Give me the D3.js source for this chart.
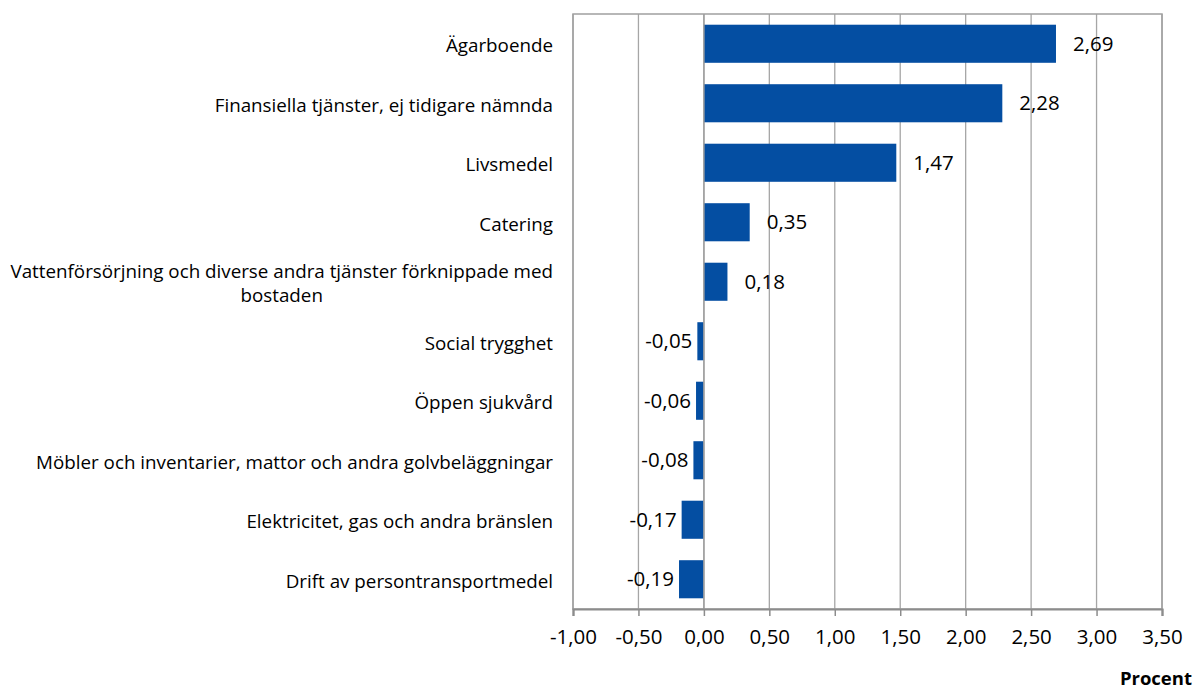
<!DOCTYPE html>
<html>
<head>
<meta charset="utf-8">
<script src="https://cdn.jsdelivr.net/npm/d3@7"></script>
<style>
    body { margin: 0; background: #fff; }
    svg { display: block; font-family: "Open Sans", sans-serif; }
</style>
</head>
<body>
<svg id="chart" width="1195" height="690"></svg>
<script>
const categories = [
    'Ägarboende',
    'Finansiella tjänster, ej tidigare nämnda',
    'Livsmedel',
    'Catering',
    'Vattenförsörjning och diverse andra tjänster förknippade med bostaden',
    'Social trygghet',
    'Öppen sjukvård',
    'Möbler och inventarier, mattor och andra golvbeläggningar',
    'Elektricitet, gas och andra bränslen',
    'Drift av persontransportmedel'
];
const values = [2.69, 2.28, 1.47, 0.35, 0.18, -0.05, -0.06, -0.08, -0.17, -0.19];
const xTicks = [-1, -0.5, 0, 0.5, 1, 1.5, 2, 2.5, 3, 3.5];
const axisTitle = 'Procent';

let width = 1195, height = 690;
let plot = {left: 573, right: 1162, top: 14, bottom: 609};
let fmt = function(v){ return d3.format('.2f')(v).replace('.', ',').replace('−', '-'); };

let svg = d3.select('#chart');

let xScale = d3.scaleLinear().domain([-1, 3.5]).range([plot.left, plot.right]);
let yScale = d3.scaleBand().domain(d3.range(categories.length)).range([plot.top, plot.bottom])
    .paddingInner(0.36).paddingOuter(0.18);

// gridlines
svg.append('g').classed('grid', true)
    .selectAll('line').data(xTicks).enter().append('line')
    .attr('x1', function(d){ return xScale(d) }).attr('x2', function(d){ return xScale(d) })
    .attr('y1', plot.top).attr('y2', plot.bottom)
    .attr('stroke', '#a6a6a6').attr('stroke-width', 1.3);

// frame
svg.append('rect')
    .attr('x', plot.left).attr('y', plot.top)
    .attr('width', plot.right - plot.left).attr('height', plot.bottom - plot.top)
    .attr('fill', 'none').attr('stroke', '#a0a0a0').attr('stroke-width', 1.5);

// bars
svg.append('g').classed('bars', true)
    .selectAll('rect').data(values).enter().append('rect')
    .attr('x', function(d){ return xScale(Math.min(0, d)) })
    .attr('y', function(d, i){ return yScale(i) })
    .attr('width', function(d){ return Math.abs(xScale(d) - xScale(0)) })
    .attr('height', yScale.bandwidth())
    .attr('fill', '#044ea2');

// category axis line at zero
svg.append('line')
    .attr('x1', xScale(0)).attr('x2', xScale(0))
    .attr('y1', plot.top).attr('y2', plot.bottom)
    .attr('stroke', '#a0a0a0').attr('stroke-width', 1.5);

// value labels
svg.append('g').classed('labels', true)
    .selectAll('text').data(values).enter().append('text')
    .attr('x', function(d){ return d >= 0 ? xScale(d) + 17 : xScale(d) - 5 })
    .attr('y', function(d, i){ return yScale(i) + yScale.bandwidth() / 2 })
    .attr('dy', '0.35em')
    .attr('text-anchor', function(d){ return d >= 0 ? 'start' : 'end' })
    .attr('font-size', '20.5px')
    .attr('fill', '#000')
    .text(function(d){ return fmt(d) });

// x axis
let xAxis = d3.axisBottom(xScale).tickValues(xTicks).tickFormat(fmt).tickSize(7).tickPadding(13);
let gx = svg.append('g').classed('axis', true)
    .attr('transform', 'translate(0,' + plot.bottom + ')')
    .call(xAxis);
gx.select('.domain').attr('stroke', '#8c8c8c').attr('stroke-width', 2.2);
gx.selectAll('.tick line').attr('stroke', '#8c8c8c').attr('stroke-width', 1.5);
gx.selectAll('.tick text').attr('font-size', '20.5px').attr('font-family', '"Open Sans", sans-serif').attr('fill', '#000');

// category labels (wrapped, centred lines, block right aligned)
let labelRight = 553, maxWidth = 548, lineHeight = 24;
let catG = svg.append('g').classed('categories', true);
categories.forEach(function(name, i){
    let t = catG.append('text')
        .attr('font-size', '18.8px')
        .attr('fill', '#000');
    let words = name.split(' '), lines = [], line = [];
    words.forEach(function(w){
        line.push(w);
        t.text(line.join(' '));
        if (t.node().getComputedTextLength() > maxWidth && line.length > 1) {
            line.pop();
            lines.push(line.join(' '));
            line = [w];
        }
    });
    lines.push(line.join(' '));
    t.text(null);
    let widest = 0;
    lines.forEach(function(l){
        t.text(l);
        widest = Math.max(widest, t.node().getComputedTextLength());
    });
    t.text(null);
    let cy = yScale(i) + yScale.bandwidth() / 2;
    let cx = lines.length > 1 ? labelRight - widest / 2 : labelRight;
    t.attr('text-anchor', lines.length > 1 ? 'middle' : 'end');
    lines.forEach(function(l, k){
        t.append('tspan')
            .attr('x', cx)
            .attr('y', cy + (k - (lines.length - 1) / 2) * lineHeight + 2)
            .attr('dy', '0.35em')
            .text(l);
    });
});

// axis title
svg.append('text')
    .attr('x', 1192).attr('y', 685)
    .attr('text-anchor', 'end')
    .attr('font-size', '18.5px')
    .attr('font-weight', 'bold')
    .text(axisTitle);
</script>
</body>
</html>
